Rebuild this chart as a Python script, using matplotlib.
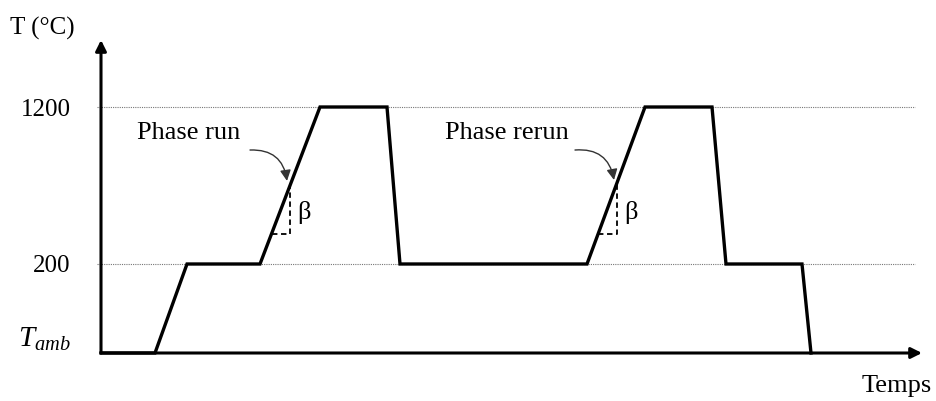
import numpy as np
import matplotlib
matplotlib.use('Agg')
import matplotlib.pyplot as plt

plt.rcParams['font.family'] = ['Liberation Serif', 'DejaVu Serif']
plt.rcParams['mathtext.fontset'] = 'custom'
plt.rcParams['mathtext.rm'] = 'Liberation Serif'
plt.rcParams['mathtext.it'] = 'Liberation Serif:italic'

# Thermal cycle (schematic): time in arbitrary units, temperature in degC
t_amb = 20
time = [0, 54, 86, 159, 219, 286, 299, 486, 544, 611, 625, 701, 710]
temp = [t_amb, t_amb, 200, 200, 1200, 1200, 200, 200, 1200, 1200, 200, 200, t_amb]

levels = [t_amb, 200, 1200]
level_labels = ['$T_{amb}$', '200', '1200']

# ramp annotations: (label, text pos, arrow start, arrow end, triangle)
phase_labels = ['Phase run', 'Phase rerun']
phase_text = [(88, 1035), (406, 1035)]
arrow_from = [(149, 926), (474, 926)]
arrow_to = [(186, 729), (513, 735)]
tri_x = [(170.5, 189), (497, 516)]
tri_T = [(391, 700), (391, 717)]
beta_pos = [(203, 525), (530, 525)]

# piecewise linear temperature axis (not to scale)
T_pts = [-1000, 20, 200, 1200, 3000]
h_pts = [-504.3, 0, 89, 246, 528.6]


def fwd(T):
    return np.interp(T, T_pts, h_pts)


def inv(h):
    return np.interp(h, h_pts, T_pts)


fig = plt.figure(figsize=(9.36, 4.01), dpi=100)
ax = fig.add_axes([101 / 936, 48 / 401, 821 / 936, 313 / 401])
ax.set_yscale('function', functions=(fwd, inv))
ax.set_xlim(0, 821)
ax.set_ylim(t_amb, inv(313))

for s in ax.spines.values():
    s.set_visible(False)
ax.set_xticks([])
ax.set_yticks(levels)
ax.set_yticklabels(level_labels, fontsize=18)
ax.tick_params(axis='y', length=0, pad=22)
lbl = ax.get_yticklabels()[0]
lbl.set_va('bottom')
lbl.set_fontsize(21)
ax.yaxis.set_minor_locator(matplotlib.ticker.NullLocator())

# dotted reference lines
for lv in levels[1:]:
    ax.axhline(lv, xmin=-4 / 821, xmax=814 / 821, color='#777777', lw=0.8,
               ls=(0, (1, 1)), clip_on=False, zorder=1)

# axes arrows
ax.annotate('', xy=(0, 1), xytext=(0, 0), xycoords='axes fraction',
            arrowprops=dict(arrowstyle='-|>', lw=2.2, color='black', mutation_scale=16,
                            shrinkA=0, shrinkB=0))
ax.annotate('', xy=(1, 0), xytext=(0, 0), xycoords='axes fraction',
            arrowprops=dict(arrowstyle='-|>', lw=2.2, color='black', mutation_scale=16,
                            shrinkA=0, shrinkB=0))

# temperature profile
ax.plot(time, temp, color='black', lw=2.4, solid_joinstyle='miter', clip_on=False, zorder=3)

for i in range(2):
    ax.text(phase_text[i][0], phase_text[i][1], phase_labels[i], fontsize=19,
            ha='center', va='center')
    ax.annotate('', xy=arrow_to[i], xytext=arrow_from[i],
                arrowprops=dict(arrowstyle='-|>', lw=1, color='#333333', mutation_scale=16,
                                shrinkA=0, shrinkB=0, connectionstyle='arc3,rad=-0.45'))
    x0, x1 = tri_x[i]
    Tb, Tt = tri_T[i]
    ax.plot([x0, x1, x1], [Tb, Tb, Tt], color='black', lw=1.3, ls=(0, (3, 2)), zorder=2)
    ax.text(beta_pos[i][0], beta_pos[i][1], 'β', fontsize=19, ha='center', va='center')

fig.text(42 / 936, 1 - 28 / 401, 'T (°C)', fontsize=18, ha='center', va='center')
fig.text(897 / 936, 1 - 386 / 401, 'Temps', fontsize=19, ha='center', va='center')

fig.savefig('out.png', dpi=100)
